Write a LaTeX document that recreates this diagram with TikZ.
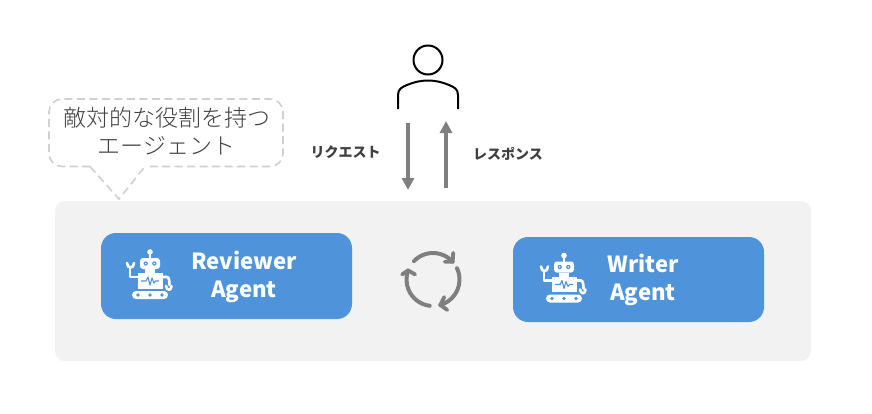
\documentclass[tikz,border=0pt]{standalone}
\usepackage{fontspec}
\setmainfont{Noto Sans CJK JP}
\newfontfamily\lightjp{Noto Sans CJK JP Light}
\usetikzlibrary{arrows.meta,calc}
\definecolor{agentblue}{HTML}{4F94DA}
\definecolor{panelgray}{HTML}{F2F2F2}
\definecolor{arrowgray}{HTML}{7F7F7F}
\definecolor{dashgray}{HTML}{D0D0D0}
\definecolor{txtdark}{HTML}{404040}
\tikzset{
  panel/.style={fill=panelgray,draw=none,rounded corners=10pt,minimum width=756pt,minimum height=160pt,inner sep=0pt},
  agentbox/.style={fill=agentblue,draw=none,rounded corners=15pt,inner sep=0pt,minimum height=86pt,minimum width=251pt},
  agenttext/.style={text=white,font=\fontsize{22.2}{28}\selectfont\bfseries,align=center,inner sep=0pt},
  flowarrow/.style={draw=arrowgray,line width=4pt,-{Triangle[width=12pt,length=12pt]}},
  flowlabel/.style={text=txtdark,font=\fontsize{14}{16}\selectfont\bfseries,inner sep=0pt},
  cyclearc/.style={draw=arrowgray,line width=4pt,line cap=round},
  cyclehead/.style={draw=arrowgray,line width=3.8pt,line cap=round,line join=round},
  person/.style={draw=black,line width=2pt},
  callout/.style={draw=dashgray,line width=1.6pt,dash pattern=on 8pt off 4.5pt},
  calloutext/.style={text=txtdark,font=\fontsize{23}{28}\lightjp\selectfont,align=center,inner sep=0pt},
  robotpart/.style={fill=white,draw=none},
  robotline/.style={draw=white,line width=2.6pt,line cap=round,line join=round},
  pics/robot/.style={code={
    % antenna and head (origin = centre of the tracks' top edge)
    \fill[robotpart] (0,-39) circle (2.8);
    \draw[robotline,line width=1.8pt] (0,-39) -- (0,-33);
    \fill[robotpart,rounded corners=3pt] (-10,-33) rectangle (10,-22);
    \fill[agentblue] (-4.3,-27.5) circle (2.2);
    \fill[agentblue] (4.3,-27.5) circle (2.2);
    \fill[robotpart] (-4.3,-27.5) circle (0.9);
    \fill[robotpart] (4.3,-27.5) circle (0.9);
    % neck and torso
    \fill[robotpart] (-5,-22) rectangle (5,-18);
    \fill[robotpart] (-12.5,-18) rectangle (13,-2.5);
    \draw[agentblue,line width=1.1pt,line join=round] (-9,-10) -- (-4,-10) -- (-2,-14) -- (0,-6) -- (2,-13) -- (4,-8) -- (5.5,-10) -- (9,-10);
    % arms
    \draw[robotline] (-12.5,-14) -- (-20,-14) -- (-20,-23);
    \draw[robotline] (-23,-28) .. controls (-23,-22) and (-16,-22) .. (-16,-28);
    \draw[robotline] (13,-14) -- (17,-14) .. controls (19,-14) and (19.5,-10) .. (19.5,-6);
    \draw[robotline] (16,-5) .. controls (16.5,0) and (21.5,0) .. (21.5,-5);
    % tracks
    \fill[robotpart,rounded corners=4pt] (-18,0) rectangle (18,8);
    \fill[agentblue] (-12,4) circle (1.9);
    \fill[agentblue] (0,4) circle (1.9);
    \fill[agentblue] (12,4) circle (1.9);
  }}
}
\begin{document}
\begin{tikzpicture}[x=1pt,y=-1pt]
\useasboundingbox (0,0) rectangle (872,413);
\fill[white] (0,0) rectangle (872,413);

% panel and agents
\node[panel] (stage) at (433,281) {};
\node[agentbox] (reviewer) at (226.5,276) {};
\node[agentbox,minimum height=85pt] (writer) at (638.5,279.5) {};
\node[agenttext] (reviewertext) at (244,277) {Reviewer\\Agent};
\node[agenttext] (writertext) at (643,280) {Writer\\Agent};
\pic at (150,291) {robot};
\pic at (564,294.5) {robot};

% cycle
\coordinate (cyc) at (433,279.5);
\draw[cyclearc] (cyc) ++(-136:26.5) arc[start angle=-136,end angle=-42,radius=26.5] coordinate (c1);
\draw[cyclearc] (cyc) ++(-25:26.5) arc[start angle=-25,end angle=74,radius=26.5] coordinate (c2);
\draw[cyclearc] (cyc) ++(97:26.5) arc[start angle=97,end angle=200,radius=26.5] coordinate (c3);
\draw[cyclehead] ($(c1)+(-8,0)$) -- (c1) -- ($(c1)+(0.5,-9)$);
\draw[cyclehead] ($(c2)+(4,-8)$) -- (c2) -- ($(c2)+(7,5)$);
\draw[cyclehead] ($(c3)+(-6,4)$) -- (c3) -- ($(c3)+(7,4)$);

% person
\node[person,circle,minimum size=29pt,inner sep=0pt] (head) at (428,60) {};
\coordinate (bodyl) at (398,109);
\coordinate (bodyr) at (458,109);
\draw[person] (bodyl) -- ++(0,-14) .. controls (398,89) and (402,87) .. (407,85) .. controls (421,79) and (435,79) .. (449,85) .. controls (454,87) and (458,89) .. (458,95) -- (bodyr);

% request and response
\coordinate (reqa) at (408,123);
\coordinate (reqb) at (408,190);
\coordinate (resa) at (446,188);
\coordinate (resb) at (446,121);
\draw[flowarrow] (reqa) -- (reqb);
\draw[flowarrow] (resa) -- (resb);
\node[flowlabel] (reqlabel) at (345.5,152) {リクエスト};
\node[flowlabel] (reslabel) at (508,154) {レスポンス};

% callout
\coordinate (tailtip) at (119,199);
\draw[callout,rounded corners=13pt] (90,166.5) -- (49,166.5) -- (49,99) -- (283,99) -- (283,166.5) -- (145,166.5);
\draw[callout] (90,166.5) -- (tailtip) -- (145,166.5);
\node[calloutext] (calltext) at (166.5,131) {敵対的な役割を持つ\\エージェント};
\end{tikzpicture}
\end{document}
